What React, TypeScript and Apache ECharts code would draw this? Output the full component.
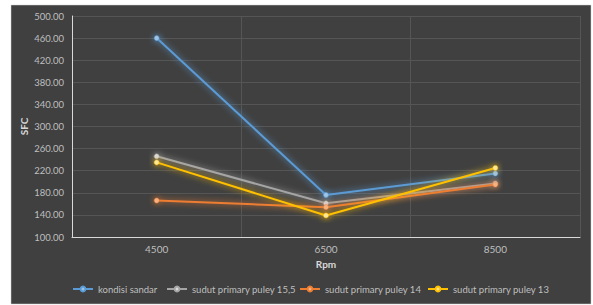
import React, { useEffect, useRef } from "react";
import * as echarts from "echarts";

const categories = ["4500", "6500", "8500"];
const seriesNames = [
  "kondisi sandar",
  "sudut primary puley 15,5",
  "sudut primary puley 14",
  "sudut primary puley 13",
];
const kondisiSandar = [460, 176, 215];
const puley155 = [246, 161, 197];
const puley14 = [166, 154, 195];
const puley13 = [235, 139, 225];
const yTicks = { min: 100, max: 500, interval: 40 };

const colors = ["#5b9bd5", "#a5a5a5", "#ed7d31", "#ffc000"];
const markerColors = ["#9dc3e6", "#d9d9d9", "#f4b183", "#ffe699"];
const legendLefts = [72, 166, 299, 427];

export default function App() {
  const ref = useRef<HTMLDivElement>(null);
  useEffect(() => {
    const chart = echarts.init(ref.current!, null, { renderer: "svg" });
    const data = [kondisiSandar, puley155, puley14, puley13];
    const font = "Lato, sans-serif";
    chart.setOption({
      animation: false,
      textStyle: { fontFamily: font },
      graphic: [
        {
          type: "rect",
          shape: { x: 11, y: 5, width: 580, height: 299 },
          style: { fill: "#404040", stroke: "#d0d0d0", lineWidth: 0.5 },
          z: -10,
          silent: true,
        },
      ],
      grid: { left: 72, right: 13, top: 16, bottom: 68 },
      legend: seriesNames.map((name, i) => ({
        top: 284,
        left: legendLefts[i],
        padding: 0,
        itemWidth: 20,
        itemHeight: 6,
        itemGap: 0,
        textStyle: { color: "#bfbfbf", fontSize: 9.5, fontFamily: font },
        data: [name],
      })),
      xAxis: {
        type: "category",
        data: categories,
        boundaryGap: true,
        name: "Rpm",
        nameLocation: "middle",
        nameGap: 22,
        nameTextStyle: { color: "#d9d9d9", fontSize: 10, fontWeight: "bold" },
        axisLine: { lineStyle: { color: "#d9d9d9", width: 1 } },
        axisTick: { show: false },
        axisLabel: { color: "#bfbfbf", fontSize: 10, margin: 7 },
        splitLine: { show: true, lineStyle: { color: "#555555", width: 1 } },
      },
      yAxis: {
        type: "value",
        min: yTicks.min,
        max: yTicks.max,
        interval: yTicks.interval,
        name: "SFC",
        nameLocation: "middle",
        nameGap: 43,
        nameMoveOverlap: false,
        nameTextStyle: { color: "#d9d9d9", fontSize: 10, fontWeight: "bold" },
        axisLine: { show: true, lineStyle: { color: "#d9d9d9", width: 1 } },
        axisTick: { show: false },
        axisLabel: {
          color: "#bfbfbf",
          fontSize: 9.5,
          margin: 8,
          formatter: (v: number) => v.toFixed(2),
        },
        splitLine: { lineStyle: { color: "#555555", width: 1 } },
      },
      series: seriesNames.map((name, i) => ({
        name,
        type: "line",
        data: data[i],
        symbol: "circle",
        symbolSize: 5,
        lineStyle: {
          color: colors[i],
          width: 2,
          shadowBlur: 6,
          shadowColor: colors[i],
        },
        itemStyle: {
          color: markerColors[i],
          borderColor: colors[i],
          borderWidth: 0.5,
          shadowBlur: 6,
          shadowColor: colors[i],
        },
      })),
    });
    return () => chart.dispose();
  }, []);
  return (
    <div
      ref={ref}
      style={{ position: "absolute", left: 0, top: 0, width: 593, height: 305 }}
    />
  );
}
